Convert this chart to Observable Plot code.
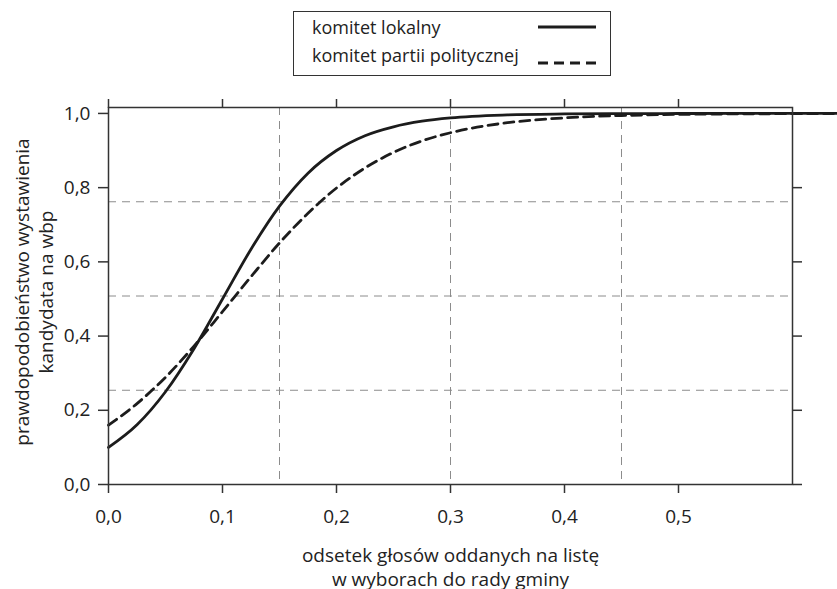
<!DOCTYPE html>
<html>
<head>
<meta charset="utf-8">
<script src="https://cdn.jsdelivr.net/npm/d3@7"></script>
<script src="https://cdn.jsdelivr.net/npm/@observablehq/plot@0.6"></script>
<style>
  body { margin: 0; background: #fff; font-family: "Open Sans", sans-serif; }
  #wrap { position: relative; width: 837px; height: 589px; }
  #chart { position: absolute; left: 0; top: 0; }
  #legend { position: absolute; left: 293px; top: 11px; width: 318px; height: 65px;
            border: 1.3px solid #333; box-sizing: border-box; background: #fff; }
  #legend .item { position: absolute; left: 18px; font-size: 18px; color: #222; line-height: 22px; white-space: nowrap; }
  #legend svg { position: absolute; left: 0; top: 0; }
</style>
</head>
<body>
<div id="wrap">
  <div id="chart"></div>
  <div id="legend"></div>
</div>
<script>
// ---- data ----
const seriesNames = ["komitet lokalny", "komitet partii politycznej"];
const xs = [0, 0.025, 0.05, 0.075, 0.1, 0.125, 0.15, 0.175, 0.2, 0.225, 0.25, 0.275, 0.3, 0.35, 0.4, 0.45, 0.5, 0.55, 0.6, 0.64];
const lokalny = [0.100, 0.161, 0.250, 0.366, 0.500, 0.634, 0.750, 0.839, 0.900, 0.940, 0.964, 0.979, 0.988, 0.996, 0.9986, 0.9995, 0.9998, 1.0, 1.0, 1.0];
const partyjny = [0.160, 0.218, 0.289, 0.373, 0.466, 0.560, 0.651, 0.731, 0.799, 0.853, 0.895, 0.926, 0.948, 0.975, 0.988, 0.9944, 0.9974, 0.9988, 0.9994, 0.9997];
const xTicks = [0, 0.1, 0.2, 0.3, 0.4, 0.5];
const yTicks = [0, 0.2, 0.4, 0.6, 0.8, 1.0];
const rightTicks = [0, 0.2, 0.4, 0.6, 0.8];
const xGrid = [0.15, 0.30, 0.45];
const yGrid = [0.254, 0.508, 0.762];
const xLabel = "odsetek głosów oddanych na listę\nw wyborach do rady gminy";
const yLabel = "prawdopodobieństwo wystawienia\nkandydata na wbp";

const lokData = xs.map((x, i) => ({x, y: lokalny[i]}));
const parData = xs.map((x, i) => ({x, y: partyjny[i]}));
const fmt = d => d.toFixed(1).replace(".", ",");
const ink = "#1c1c1c";

const chart = Plot.plot({
  width: 837,
  height: 589,
  marginLeft: 108,
  marginRight: 45,
  marginTop: 107,
  marginBottom: 105,
  style: { fontFamily: "'Open Sans', sans-serif", fontSize: "19px", color: "#222", background: "transparent" },
  x: { domain: [0, 0.6], label: null },
  y: { domain: [0, 1.016], label: null },
  marks: [
    Plot.ruleX(xGrid, { x: d => d, stroke: "#8c8c8c", strokeWidth: 1, strokeDasharray: "8,6" }),
    Plot.ruleY(yGrid, { y: d => d, stroke: "#8c8c8c", strokeWidth: 1, strokeDasharray: "8,6" }),
    Plot.line(parData, { x: "x", y: "y", stroke: ink, strokeWidth: 2.8, strokeDasharray: "10,6", curve: "monotone-x" }),
    Plot.line(lokData, { x: "x", y: "y", stroke: ink, strokeWidth: 2.8, curve: "monotone-x" }),
    Plot.frame({ stroke: "#333", strokeWidth: 1.5 }),
    Plot.axisX(xTicks, { anchor: "bottom", tickSize: 9, tickPadding: 16, tickFormat: fmt, label: null, stroke: "#333", strokeWidth: 1.5, fill: "#222", fontSize: 19 }),
    Plot.axisX(xTicks, { anchor: "top", tickSize: 9, tickFormat: () => "", label: null, stroke: "#333", strokeWidth: 1.5 }),
    Plot.axisY(yTicks, { anchor: "left", tickSize: 10, tickPadding: 8, tickFormat: fmt, label: null, stroke: "#333", strokeWidth: 1.5, fill: "#222", fontSize: 19 }),
    Plot.axisY(rightTicks, { anchor: "right", tickSize: 9, tickFormat: () => "", label: null, stroke: "#333", strokeWidth: 1.5 }),
    Plot.text([xLabel], { text: d => d, frameAnchor: "bottom", dy: 82, textAnchor: "middle", lineAnchor: "middle", lineHeight: 1.26, fontSize: 19, fill: "#222" }),
    Plot.text([yLabel], { text: d => d, frameAnchor: "left", rotate: -90, dx: -75, dy: -4, textAnchor: "middle", lineAnchor: "middle", lineHeight: 1.26, fontSize: 19, fill: "#222" })
  ]
});
document.getElementById("chart").appendChild(chart);

// legend
const legend = document.getElementById("legend");
const sw = d3.select(legend).append("svg").attr("width", 318).attr("height", 65);
sw.append("line").attr("x1", 244).attr("x2", 302).attr("y1", 15).attr("y2", 15)
  .attr("stroke", ink).attr("stroke-width", 2.8);
sw.append("line").attr("x1", 244).attr("x2", 302).attr("y1", 51).attr("y2", 51)
  .attr("stroke", ink).attr("stroke-width", 2.8).attr("stroke-dasharray", "10,6");
seriesNames.forEach((name, i) => {
  const el = document.createElement("div");
  el.className = "item";
  el.style.top = (i === 0 ? 4 : 32) + "px";
  el.textContent = name;
  legend.appendChild(el);
});
</script>
</body>
</html>
